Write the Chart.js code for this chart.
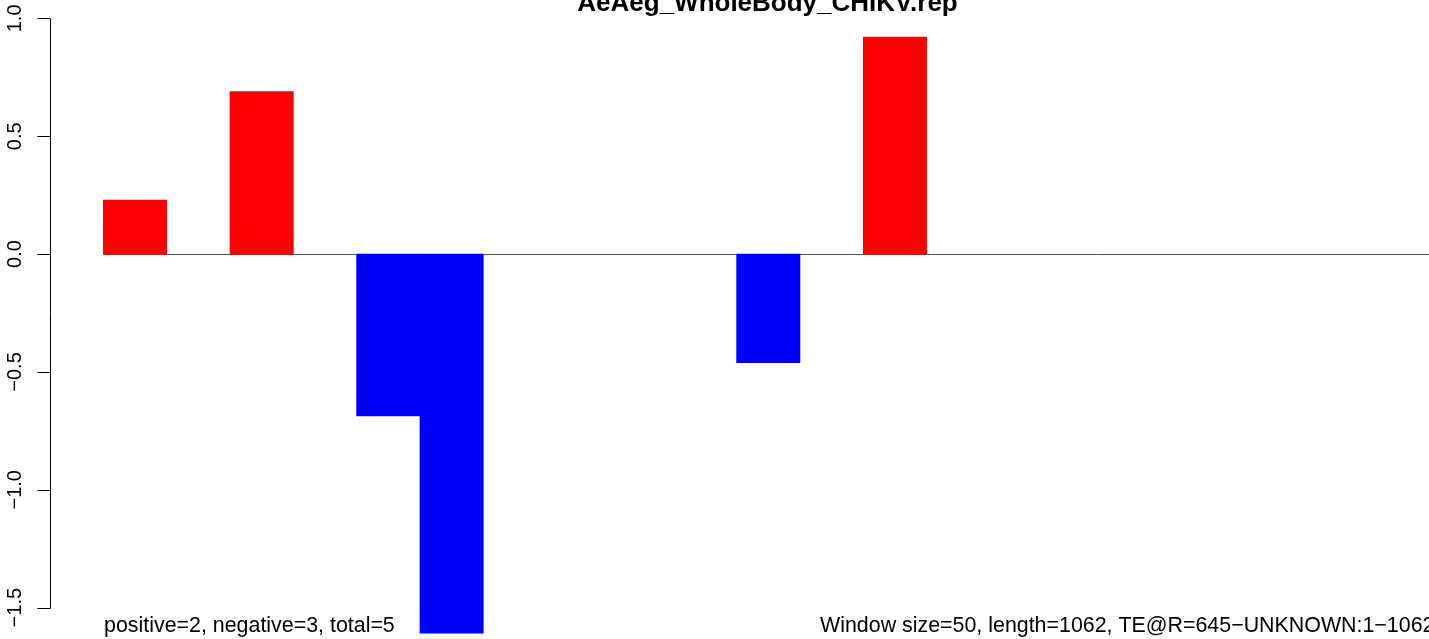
<!DOCTYPE html>
<html>
<head>
<meta charset="utf-8">
<script src="https://cdn.jsdelivr.net/npm/chart.js@4.4.1/dist/chart.umd.min.js"></script>
<style>
html,body{margin:0;padding:0;background:#fff;overflow:hidden;}
canvas{display:block;}
</style>
</head>
<body>
<canvas id="c" width="1429" height="639"></canvas>
<script>
// ---- data ----
const chartTitle = "AeAeg_WholeBody_CHIKV.rep";
const windowIndex = [0, 2, 4, 5, 10, 12];
const scores = [0.229, 0.689, -0.687, -1.608, -0.461, 0.921];
const yTicks = [-1.5, -1.0, -0.5, 0.0, 0.5, 1.0];
const yTickLabels = ["\u22121.5", "\u22121.0", "\u22120.5", "0.0", "0.5", "1.0"];
const leftNote = "positive=2, negative=3, total=5";
const rightNote = "Window size=50, length=1062, TE@R=645\u2212UNKNOWN:1\u22121062";

const points = windowIndex.map((w, i) => ({x: w, y: scores[i]}));
const colors = scores.map(v => v >= 0 ? "#FF0000" : "#0000FF");

const FONT = "'Liberation Sans', Arial, Helvetica, sans-serif";

const decor = {
  id: "decor",
  beforeDatasetsDraw(chart) {
    const ctx = chart.ctx, xs = chart.scales.x, ys = chart.scales.y, ca = chart.chartArea;
    const y0 = Math.round(ys.getPixelForValue(0)) + 0.5;
    const xStart = xs.getPixelForValue(windowIndex[0] - 0.5);
    ctx.save();
    ctx.strokeStyle = "#555555";
    ctx.lineWidth = 1;
    ctx.beginPath();
    ctx.moveTo(xStart, y0);
    ctx.lineTo(ca.right, y0);
    ctx.stroke();
    ctx.restore();
  },
  afterDraw(chart) {
    const ctx = chart.ctx, ys = chart.scales.y, ca = chart.chartArea;
    const ax = ca.left + 0.5;
    ctx.save();
    ctx.strokeStyle = "#000";
    ctx.lineWidth = 1;
    const yTop = Math.round(ys.getPixelForValue(yTicks[yTicks.length - 1])) + 0.5;
    const yBot = Math.round(ys.getPixelForValue(yTicks[0])) + 0.5;
    ctx.beginPath();
    ctx.moveTo(ax, yTop);
    ctx.lineTo(ax, yBot);
    yTicks.forEach(t => {
      const py = Math.round(ys.getPixelForValue(t)) + 0.5;
      ctx.moveTo(ax, py);
      ctx.lineTo(ax - 13, py);
    });
    ctx.stroke();
    // tick labels (rotated like R)
    ctx.fillStyle = "#000";
    ctx.font = "20px " + FONT;
    ctx.textAlign = "center";
    ctx.textBaseline = "alphabetic";
    yTicks.forEach((t, i) => {
      const py = ys.getPixelForValue(t);
      ctx.save();
      ctx.translate(21, py);
      ctx.rotate(-Math.PI / 2);
      ctx.fillText(yTickLabels[i], 0, 0);
      ctx.restore();
    });
    // title
    ctx.font = "bold 26px " + FONT;
    ctx.textAlign = "center";
    ctx.fillText(chartTitle, 767.5, 11);
    // bottom notes
    ctx.font = "21.4px " + FONT;
    ctx.textAlign = "left";
    ctx.fillText(leftNote, 104, 632);
    ctx.fillText(rightNote, 820, 632);
    ctx.restore();
  }
};

new Chart(document.getElementById("c"), {
  type: "bar",
  data: {
    datasets: [{
      data: points,
      backgroundColor: colors,
      borderWidth: 0,
      barPercentage: 1.0,
      categoryPercentage: 1.0
    }]
  },
  options: {
    responsive: false,
    devicePixelRatio: 1,
    animation: false,
    layout: {padding: {left: 50, right: 0, top: 0, bottom: 0}},
    plugins: {legend: {display: false}, tooltip: {enabled: false}, title: {display: false}},
    scales: {
      x: {type: "linear", min: -1.342, max: 20.433, offset: false, display: false},
      y: {type: "linear", min: -1.633, max: 1.078, display: false}
    }
  },
  plugins: [decor]
});
</script>
</body>
</html>
